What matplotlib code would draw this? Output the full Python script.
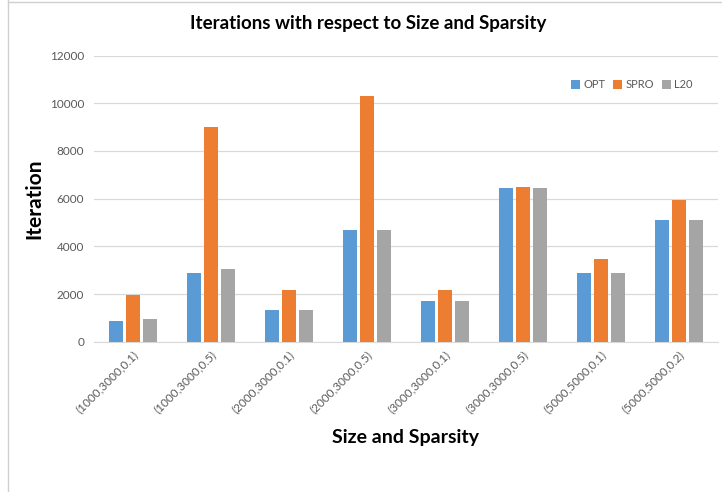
import matplotlib
matplotlib.use("Agg")
import matplotlib.pyplot as plt
import numpy as np
from matplotlib.lines import Line2D

categories = ["(1000,3000,0.1)", "(1000,3000,0.5)", "(2000,3000,0.1)", "(2000,3000,0.5)",
              "(3000,3000,0.1)", "(3000,3000,0.5)", "(5000,5000,0.1)", "(5000,5000,0.2)"]
opt = [880, 2880, 1340, 4700, 1720, 6450, 2870, 5105]
spro = [1970, 9020, 2170, 10300, 2170, 6490, 3470, 5945]
l20 = [940, 3050, 1340, 4700, 1720, 6450, 2870, 5105]
series_names = ["OPT", "SPRO", "L20"]
colors = ["#5B9BD5", "#ED7D31", "#A5A5A5"]
yticks = [0, 2000, 4000, 6000, 8000, 10000, 12000]

plt.rcParams['font.family'] = ['Lato', 'DejaVu Sans']

fig = plt.figure(figsize=(7.22, 4.92), dpi=100)
ax = fig.add_axes([94/722, 1-341.7/492, (718-94)/722, (341.7-55.6)/492])

x = np.arange(len(categories))
w = 0.175
off = 0.218
for i, (vals, name, c) in enumerate(zip([opt, spro, l20], series_names, colors)):
    ax.bar(x + (i-1)*off, vals, width=w, color=c, label=name, zorder=3)

ax.set_xlim(-0.5, len(categories)-0.5)
ax.set_ylim(0, 12000)
ax.set_yticks(yticks)
ax.set_yticklabels([str(v) for v in yticks], fontsize=8.5, color="#595959")
ax.set_xticks(x)
ax.set_xticklabels(categories, rotation=45, ha='right', rotation_mode='anchor',
                   fontsize=8.5, color="#595959")
ax.tick_params(axis='y', length=0, pad=7)
ax.tick_params(axis='x', length=0, pad=5)
ax.grid(axis='y', color="#D9D9D9", linewidth=0.9, zorder=0)
for s in ['top', 'right', 'left']:
    ax.spines[s].set_visible(False)
ax.spines['bottom'].set_color("#D9D9D9")

ax.set_ylabel("Iteration", fontsize=15, fontweight='bold', labelpad=4)
ax.set_xlabel("Size and Sparsity", fontsize=14, fontweight='bold', labelpad=10)
fig.text(368/722, 1-24/492, "Iterations with respect to Size and Sparsity",
         ha='center', va='center', fontsize=13.5, fontweight='bold')

leg = ax.legend(loc='center', bbox_to_anchor=(632/722*722/624 - 94/624, (341.7-85)/286),
                ncol=3, frameon=False, fontsize=8, handlelength=0.8, handleheight=0.8,
                columnspacing=0.7, handletextpad=0.3)
for t in leg.get_texts():
    t.set_color("#595959")

fig.add_artist(Line2D([8/722, 8/722], [0, 1], color="#D0D0D0", linewidth=1, transform=fig.transFigure))
fig.add_artist(Line2D([8/722, 1], [1-2/492, 1-2/492], color="#D0D0D0", linewidth=1, transform=fig.transFigure))

fig.savefig("out.png", dpi=100)
